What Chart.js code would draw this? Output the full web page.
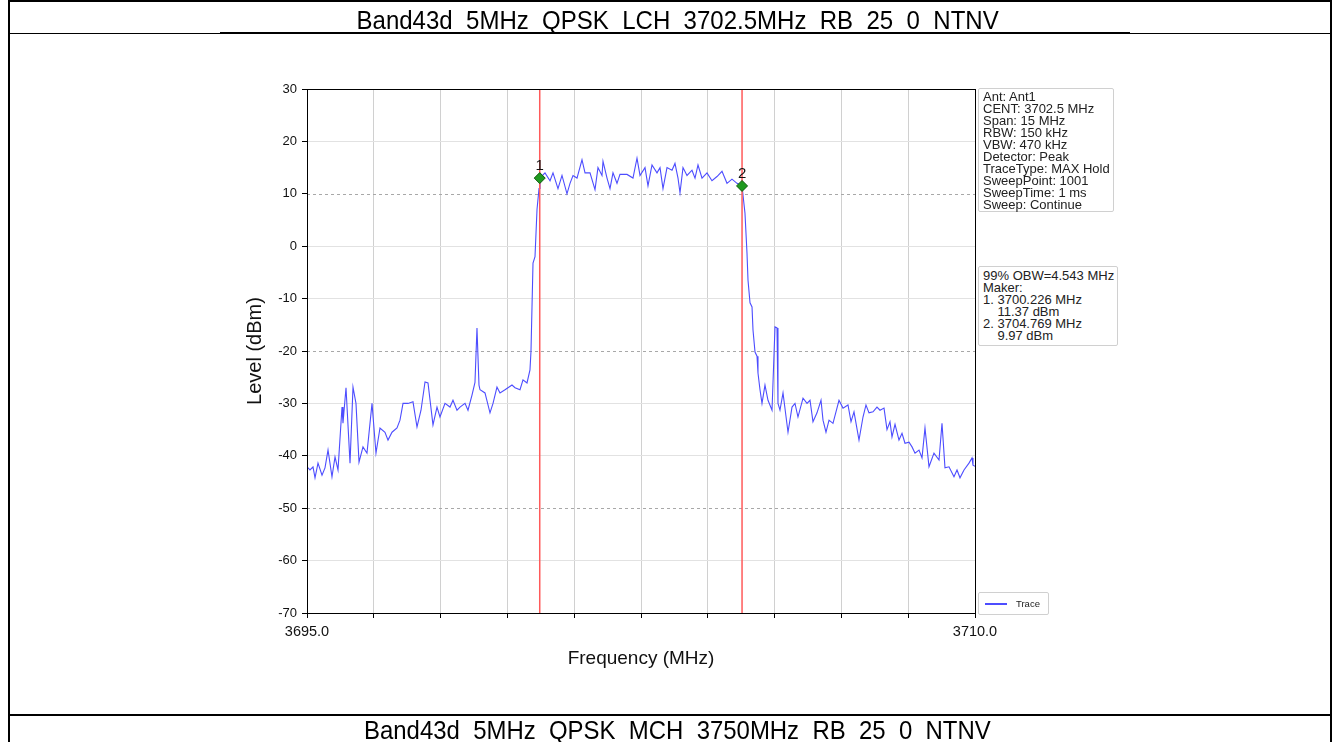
<!DOCTYPE html>
<html>
<head>
<meta charset="utf-8">
<script src="https://cdn.jsdelivr.net/npm/chart.js@4.4.1/dist/chart.umd.min.js"></script>
<style>
html,body{margin:0;padding:0;background:#fff;width:1341px;height:742px;overflow:hidden;font-family:"Liberation Sans",Arial,sans-serif;}
#wrap{position:relative;width:1341px;height:742px;overflow:hidden;}
#c{position:absolute;left:0;top:0;}
.ln{position:absolute;background:#000;}
.title{position:absolute;white-space:nowrap;font-size:26px;color:#000;line-height:26px;transform-origin:center center;}
.box{position:absolute;border:1px solid #d0d0d0;border-radius:2px;background:#fff;font-size:13px;line-height:12px;color:#222;white-space:pre;box-sizing:border-box;}
</style>
</head>
<body>
<div id="wrap">
<canvas id="c" width="1341" height="742"></canvas>
<div class="ln" style="left:9px;top:0;width:1323px;height:2px;"></div>
<div class="ln" style="left:9px;top:33px;width:1323px;height:1px;"></div>
<div class="ln" style="left:220px;top:32px;width:910px;height:2px;"></div>
<div class="ln" style="left:9px;top:714px;width:1323px;height:2px;"></div>
<div class="ln" style="left:8px;top:0;width:2px;height:742px;"></div>
<div class="ln" style="left:1330px;top:0;width:2px;height:742px;"></div>
<div id="t1" class="title"></div>
<div id="t2" class="title"></div>
<div id="info1" class="box" style="left:978px;top:88px;width:136px;height:124px;padding:2px 0 0 4px;"></div>
<div id="info2" class="box" style="left:978px;top:266px;width:140px;height:80px;padding:3px 0 0 4px;"></div>
<div class="box" style="left:978px;top:592px;width:71px;height:23px;">
  <div style="position:absolute;left:6px;top:10px;width:22px;height:1.5px;background:#4d4dff;"></div>
  <div style="position:absolute;left:37px;top:6px;font-size:9.5px;line-height:10px;color:#222;">Trace</div>
</div>
</div>
<script>
// ---------- data ----------
const titleTop = "Band43d_5MHz_QPSK_LCH_3702.5MHz_RB_25_0_NTNV";
const titleBottom = "Band43d_5MHz_QPSK_MCH_3750MHz_RB_25_0_NTNV";
const infoLines = ["Ant: Ant1","CENT: 3702.5 MHz","Span: 15 MHz","RBW: 150 kHz","VBW: 470 kHz","Detector: Peak","TraceType: MAX Hold","SweepPoint: 1001","SweepTime: 1 ms","Sweep: Continue"];
const obwLines = ["99% OBW=4.543 MHz","Maker:","1. 3700.226 MHz","    11.37 dBm","2. 3704.769 MHz","    9.97 dBm"];

const freqMHz = [
3695.000,3695.067,3695.135,3695.180,3695.247,3695.337,3695.404,3695.472,3695.561,3695.629,
3695.696,3695.786,3695.808,3695.876,3695.966,3696.033,3696.100,3696.168,3696.257,3696.347,
3696.460,3696.549,3696.639,3696.751,3696.819,3696.909,3697.021,3697.088,3697.156,3697.268,
3697.380,3697.470,3697.560,3697.650,3697.717,3697.829,3697.919,3697.986,3698.099,3698.211,
3698.278,3698.368,3698.436,3698.548,3698.615,3698.705,3698.772,3698.817,3698.862,3698.885,
3698.997,3699.109,3699.177,3699.266,3699.334,3699.446,3699.513,3699.603,3699.671,3699.783,
3699.850,3699.940,3700.007,3700.030,3700.075,3700.120,3700.165,3700.210,3700.232,
3700.344,3700.457,3700.524,3700.636,3700.726,3700.838,3700.906,3700.973,3701.063,3701.175,
3701.243,3701.355,3701.467,3701.534,3701.624,3701.647,3701.737,3701.804,3701.871,3701.961,
3702.028,3702.186,3702.320,3702.410,3702.478,3702.590,3702.657,3702.747,3702.859,3702.927,
3702.994,3703.084,3703.196,3703.263,3703.331,3703.376,3703.443,3703.533,3703.645,3703.713,
3703.780,3703.870,3703.982,3704.094,3704.207,3704.319,3704.431,3704.543,3704.656,3704.768,
3704.835,3704.880,3704.903,3704.948,3704.993,3705.015,3705.060,3705.105,3705.127,3705.172,
3705.217,3705.284,3705.352,3705.442,3705.509,3705.554,3705.576,3705.621,3705.689,3705.801,
3705.891,3705.958,3706.025,3706.138,3706.228,3706.295,3706.362,3706.452,3706.542,3706.587,
3706.654,3706.722,3706.811,3706.946,3707.036,3707.148,3707.216,3707.283,3707.395,3707.485,
3707.552,3707.620,3707.710,3707.799,3707.867,3707.957,3708.024,3708.091,3708.136,3708.204,
3708.293,3708.361,3708.428,3708.518,3708.586,3708.653,3708.743,3708.810,3708.877,3708.967,
3709.079,3709.192,3709.259,3709.326,3709.416,3709.528,3709.596,3709.663,3709.753,3709.865,
3709.933,3709.955,3710.000
];
const levelDbm = [
-42.1,-42.7,-42.1,-44.2,-41.4,-43.7,-42.3,-38.9,-44.0,-40.2,
-42.7,-30.7,-33.8,-27.0,-41.4,-26.9,-30.0,-41.2,-38.3,-39.5,
-30.0,-39.5,-34.7,-35.5,-37.0,-35.5,-34.7,-33.2,-30.0,-30.0,
-29.7,-34.5,-31.3,-25.9,-26.1,-34.1,-30.7,-32.6,-30.0,-30.7,
-29.4,-31.3,-30.7,-30.0,-31.3,-28.4,-26.0,-15.6,-26.5,-27.4,
-28.0,-31.8,-30.0,-26.9,-28.0,-27.4,-27.0,-26.5,-27.0,-27.4,
-25.5,-26.1,-23.6,-20.0,-3.2,-2.0,7.0,11.0,13.0,
14.0,12.5,14.0,11.0,13.5,10.0,12.0,13.5,13.0,16.5,
14.0,14.0,10.8,15.0,13.5,16.2,13.0,11.0,14.0,12.0,
13.7,13.7,13.0,16.8,13.5,15.0,11.5,15.5,14.0,15.0,
11.0,15.0,14.5,15.8,13.0,10.2,15.0,13.5,14.5,13.0,
15.5,13.0,14.0,12.5,13.3,14.3,12.0,12.8,12.0,11.5,
6.3,-1.3,-6.5,-10.8,-11.6,-16.0,-20.2,-21.0,-24.2,-27.4,
-30.0,-26.5,-29.4,-31.3,-15.4,-15.6,-30.0,-31.3,-28.0,-35.5,
-30.7,-30.0,-32.6,-29.0,-30.0,-29.4,-33.5,-31.8,-29.4,-33.2,
-35.5,-33.2,-33.8,-29.4,-30.9,-30.3,-33.5,-31.6,-37.0,-32.6,
-30.3,-31.8,-31.6,-30.7,-31.3,-30.9,-35.0,-33.5,-36.4,-34.0,
-37.0,-35.7,-37.6,-37.4,-38.3,-39.5,-38.9,-40.4,-34.7,-42.1,
-39.5,-40.8,-33.8,-42.3,-42.1,-44.0,-42.7,-44.2,-42.7,-41.4,
-40.4,-41.8,-42.0
];
const markerFreq = [3700.226, 3704.769];
const markerLevel = [13.0, 11.5];
const markerLabels = ["1", "2"];
const xTickValues = [3695,3696.5,3698,3699.5,3701,3702.5,3704,3705.5,3707,3708.5,3710];
const xTickLabels = {3695:"3695.0", 3710:"3710.0"};
const yMin = -70, yMax = 30, yStep = 10;
const dashedGridLevels = [10, -20, -50];

// ---------- texts ----------
function setTitle(id, text, cx, cy, targetW){
  const el = document.getElementById(id);
  el.textContent = text;
  const w = el.offsetWidth, h = el.offsetHeight;
  el.style.left = (cx - w/2) + 'px';
  el.style.top = (cy - h/2) + 'px';
  el.style.transform = 'scaleX(' + (targetW / w) + ')';
}
setTitle('t1', titleTop, 677, 19.5, 642);
setTitle('t2', titleBottom, 677, 730, 627);
document.getElementById('info1').textContent = infoLines.join('\n');
document.getElementById('info2').textContent = obwLines.join('\n');

// ---------- chart ----------
const FONT = '"Liberation Sans", Arial, sans-serif';
const overlay = {
  id: 'overlay',
  beforeDatasetsDraw(chart){
    const {ctx, chartArea:a, scales:{y}} = chart;
    ctx.save();
    ctx.strokeStyle = '#a8a8a8'; ctx.lineWidth = 1; ctx.setLineDash([3,3]);
    dashedGridLevels.forEach(v => {
      const py = Math.round(y.getPixelForValue(v)) + 0.5;
      ctx.beginPath(); ctx.moveTo(a.left, py); ctx.lineTo(a.right, py); ctx.stroke();
    });
    ctx.restore();
  },
  afterDatasetsDraw(chart){
    const {ctx, scales:{x, y}} = chart;
    ctx.save();
    ctx.font = '15px ' + FONT;
    ctx.fillStyle = '#111'; ctx.textAlign = 'center'; ctx.textBaseline = 'bottom';
    markerFreq.forEach((f, i) => {
      ctx.fillText(markerLabels[i], x.getPixelForValue(f), y.getPixelForValue(markerLevel[i]) - 5);
    });
    ctx.restore();
  },
  afterDraw(chart){
    const {ctx, chartArea:a} = chart;
    ctx.save();
    ctx.strokeStyle = '#000'; ctx.lineWidth = 1;
    ctx.strokeRect(Math.round(a.left) + 0.5, Math.round(a.top) + 0.5, Math.round(a.right - a.left), Math.round(a.bottom - a.top));
    ctx.restore();
  }
};

new Chart(document.getElementById('c'), {
  type: 'line',
  data: {
    datasets: [
      { label: 'Marker', data: markerFreq.map((f, i) => ({x: f, y: markerLevel[i]})), showLine: false,
        pointStyle: 'rectRot', pointRadius: 5.5, backgroundColor: '#1f9a1f', borderColor: '#0c5a0c', borderWidth: 1, order: 1 },
      { label: 'M1', data: [{x: markerFreq[0], y: yMin}, {x: markerFreq[0], y: yMax}], borderColor: '#ff5a5a', borderWidth: 1.5, pointRadius: 0, order: 2 },
      { label: 'M2', data: [{x: markerFreq[1], y: yMin}, {x: markerFreq[1], y: yMax}], borderColor: '#ff5a5a', borderWidth: 1.5, pointRadius: 0, order: 2 },
      { label: 'Trace', data: freqMHz.map((f, i) => ({x: f, y: levelDbm[i]})), borderColor: '#4d4dff', borderWidth: 1.1, pointRadius: 0, tension: 0, order: 3 }
    ]
  },
  options: {
    responsive: false, animation: false, devicePixelRatio: 1,
    layout: { padding: { left: 240, right: 366, top: 89, bottom: 69 } },
    plugins: { legend: { display: false }, tooltip: { enabled: false } },
    scales: {
      x: {
        type: 'linear', min: 3695, max: 3710,
        afterBuildTicks: s => { s.ticks = xTickValues.map(v => ({value: v})); },
        afterFit: s => { s.height = 60; },
        ticks: { autoSkip: false, maxRotation: 0, padding: 5, color: '#111',
                 font: { size: 14.5, family: FONT },
                 callback: v => xTickLabels[v] || '' },
        grid: { color: '#d0d0d0', tickLength: 5, tickColor: '#000' },
        border: { display: false },
        title: { display: true, text: 'Frequency (MHz)', color: '#111',
                 font: { size: 19, family: FONT }, padding: { top: 0, bottom: 3 } }
      },
      y: {
        min: yMin, max: yMax,
        afterFit: s => { s.width = 67; },
        ticks: { stepSize: yStep, padding: 5, color: '#111',
                 font: { size: 13, family: FONT } },
        grid: { color: c => dashedGridLevels.includes(c.tick && c.tick.value) ? 'rgba(0,0,0,0)' : '#e2e2e2',
                tickLength: 5, tickColor: '#000' },
        border: { display: false },
        title: { display: true, text: 'Level (dBm)', color: '#111',
                 font: { size: 20, family: FONT }, padding: { top: 3, bottom: 0 } }
      }
    }
  },
  plugins: [overlay]
});
</script>
</body>
</html>
